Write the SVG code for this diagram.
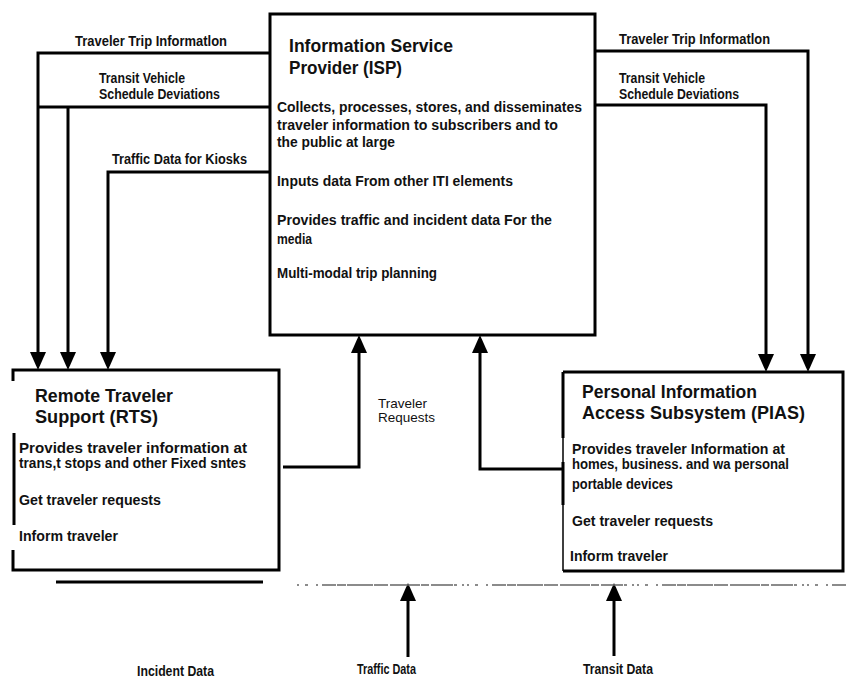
<svg xmlns="http://www.w3.org/2000/svg" width="846" height="681" viewBox="0 0 846 681">
<style>
.box{fill:none;stroke:#000;stroke-width:3}
.thin{fill:none;stroke:#000;stroke-width:1.5}
.ln{fill:none;stroke:#000;stroke-width:3}
.t{font-family:"Liberation Sans",Arial,sans-serif;font-weight:bold;font-size:14px;fill:#111}
.ttl{font-family:"Liberation Sans",Arial,sans-serif;font-weight:bold;font-size:17.5px;fill:#111}
.r{font-family:"Liberation Sans",Arial,sans-serif;font-size:13.5px;fill:#111}
</style>
<defs>
<marker id="ah" markerUnits="userSpaceOnUse" markerWidth="18" markerHeight="16" refX="14" refY="8" orient="auto" viewBox="0 0 18 16">
<path d="M0,0 L18,8 L0,16 z" fill="#000"/>
</marker>
</defs>
<rect width="846" height="681" fill="#fff"/>

<g id="isp">
<rect class="box" x="270" y="14" width="325" height="321"/>
<text class="ttl" x="289" y="52" textLength="164" lengthAdjust="spacingAndGlyphs">Information Service</text>
<text class="ttl" x="289" y="74" textLength="113" lengthAdjust="spacingAndGlyphs">Provider (ISP)</text>
<text class="t" x="277" y="112" textLength="305" lengthAdjust="spacingAndGlyphs">Collects,  processes,  stores, and disseminates</text>
<text class="t" x="277" y="130" textLength="281" lengthAdjust="spacingAndGlyphs">traveler  information to subscribers   and to</text>
<text class="t" x="277" y="147" textLength="118" lengthAdjust="spacingAndGlyphs">the  public  at large</text>
<text class="t" x="277" y="186" textLength="236" lengthAdjust="spacingAndGlyphs">Inputs  data From  other  ITI elements</text>
<text class="t" x="277" y="225" textLength="275" lengthAdjust="spacingAndGlyphs">Provides traffic  and  incident   data For  the</text>
<text class="t" x="277" y="244" textLength="35" lengthAdjust="spacingAndGlyphs">media</text>
<text class="t" x="277" y="278" textLength="160" lengthAdjust="spacingAndGlyphs">Multi-modal   trip  planning</text>
</g>

<g id="rts">
<path class="box" d="M13,381 V370 H279 V570 H13 V550"/>
<path class="box" d="M14,433 V525"/>
<text class="ttl" x="35" y="402" textLength="138" lengthAdjust="spacingAndGlyphs">Remote  Traveler</text>
<text class="ttl" x="35" y="423" textLength="123" lengthAdjust="spacingAndGlyphs">Support  (RTS)</text>
<text class="t" x="19" y="453" textLength="228" lengthAdjust="spacingAndGlyphs">Provides traveler  information    at</text>
<text class="t" x="19" y="468" textLength="227" lengthAdjust="spacingAndGlyphs">trans,t  stops  and  other  Fixed  sntes</text>
<text class="t" x="19" y="505" textLength="142" lengthAdjust="spacingAndGlyphs">Get  traveler  requests</text>
<text class="t" x="19" y="541" textLength="99" lengthAdjust="spacingAndGlyphs">Inform  traveler</text>
</g>

<g id="pias">
<path class="box" d="M563,372 H843 V571 H563"/>
<path class="box" d="M563,372 V438 M563,462 V505"/>
<path class="thin" d="M563,438 V462 M563,505 V571"/>
<text class="ttl" x="582" y="398" textLength="175" lengthAdjust="spacingAndGlyphs">Personal Information</text>
<text class="ttl" x="582" y="419" textLength="223" lengthAdjust="spacingAndGlyphs">Access Subsystem (PIAS)</text>
<text class="t" x="572" y="454" textLength="213" lengthAdjust="spacingAndGlyphs">Provides  traveler  Information   at</text>
<text class="t" x="572" y="469" textLength="217" lengthAdjust="spacingAndGlyphs">homes,  business.  and wa personal</text>
<text class="t" x="572" y="489" textLength="101" lengthAdjust="spacingAndGlyphs">portable   devices</text>
<text class="t" x="572" y="526" textLength="141" lengthAdjust="spacingAndGlyphs">Get traveler  requests</text>
<text class="t" x="570" y="561" textLength="98" lengthAdjust="spacingAndGlyphs">Inform  traveler</text>
</g>

<g id="connectors">
<path class="ln" d="M270,53 H38 V366" marker-end="url(#ah)"/>
<path class="ln" d="M270,107 H38"/>
<path class="ln" d="M68,107 V366" marker-end="url(#ah)"/>
<path class="ln" d="M270,172 H108 V366" marker-end="url(#ah)"/>
<path class="ln" d="M595,51 H808 V368" marker-end="url(#ah)"/>
<path class="ln" d="M595,105 H766 V368" marker-end="url(#ah)"/>
<path class="ln" d="M283,467 H359 V339" marker-end="url(#ah)"/>
<path class="ln" d="M563,469 H480 V339" marker-end="url(#ah)"/>
<path class="ln" d="M408,657 V587" marker-end="url(#ah)"/>
<path class="ln" d="M614,656 V587" marker-end="url(#ah)"/>
<path class="ln" d="M56,582 H263"/>
<path d="M297,585 H846" stroke="#666" stroke-width="1.5" fill="none" stroke-dasharray="2 6 3 8 2 4 14 1 9 1 26 1 14 2 30 1 8 2 22 1 3 5 2 3"/>
</g>

<g id="labels">
<text class="t" x="75" y="46" textLength="152" lengthAdjust="spacingAndGlyphs">Traveler  Trip  Informatlon</text>
<text class="t" x="99" y="83" textLength="86" lengthAdjust="spacingAndGlyphs">Transit  Vehicle</text>
<text class="t" x="99" y="99" textLength="121" lengthAdjust="spacingAndGlyphs">Schedule  Deviations</text>
<text class="t" x="112" y="164" textLength="135" lengthAdjust="spacingAndGlyphs">Traffic  Data  for  Kiosks</text>
<text class="t" x="619" y="44" textLength="151" lengthAdjust="spacingAndGlyphs">Traveler  Trip  Informatlon</text>
<text class="t" x="619" y="83" textLength="86" lengthAdjust="spacingAndGlyphs">Transit  Vehicle</text>
<text class="t" x="619" y="99" textLength="120" lengthAdjust="spacingAndGlyphs">Schedule  Deviations</text>
<text class="r" x="378" y="408">Traveler</text>
<text class="r" x="378" y="422">Requests</text>
<text class="t" x="137" y="676" textLength="77" lengthAdjust="spacingAndGlyphs">Incident   Data</text>
<text class="t" x="357" y="674" textLength="59" lengthAdjust="spacingAndGlyphs">Traffic  Data</text>
<text class="t" x="583" y="674" textLength="70" lengthAdjust="spacingAndGlyphs">Transit  Data</text>
</g>
</svg>
